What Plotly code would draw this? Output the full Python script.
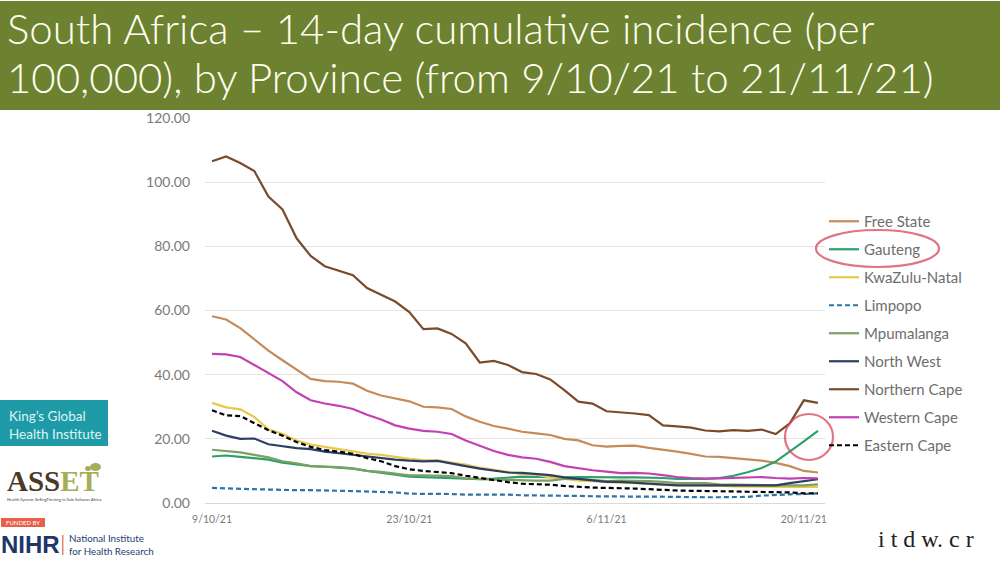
import plotly.graph_objects as go

dates = ["9/10/21","10/10/21","11/10/21","12/10/21","13/10/21","14/10/21","15/10/21","16/10/21","17/10/21","18/10/21",
         "19/10/21","20/10/21","21/10/21","22/10/21","23/10/21","24/10/21","25/10/21","26/10/21","27/10/21","28/10/21",
         "29/10/21","30/10/21","31/10/21","1/11/21","2/11/21","3/11/21","4/11/21","5/11/21","6/11/21","7/11/21",
         "8/11/21","9/11/21","10/11/21","11/11/21","12/11/21","13/11/21","14/11/21","15/11/21","16/11/21","17/11/21",
         "18/11/21","19/11/21","20/11/21","21/11/21"]
tick_dates = ["9/10/21","23/10/21","6/11/21","20/11/21"]
y_ticks = [0,20,40,60,80,100,120]

free_state = [58.2,57.2,54.5,51,47.5,44.5,41.5,38.7,38,37.8,
              37.2,35,33.5,32.5,31.7,30,29.8,29.3,27,25.3,
              24,23.2,22.2,21.7,21.2,20,19.5,18,17.6,17.8,
              17.9,17.2,16.7,16,15.3,14.5,14.4,14,13.8,13.2,
              12.5,11.5,10,9.5]
gauteng = [14.5,14.8,14.4,13.9,13.5,12.6,12,11.5,11.3,11,
           10.7,10,9.5,8.8,8.2,8,8,7.8,7.4,7.4,
           7.6,7.8,8.2,8.1,8,8,8.1,8,7.9,8,
           8,8,7.8,7.5,7.4,7.5,7.8,8.5,9.6,10.9,
           12.9,16,19.2,22.5]
kwazulu_natal = [31.2,29.8,29.2,26.8,23,21.5,19.5,18.2,17.5,16.8,
                 16,15.4,15,14.3,13.8,13.4,13.3,12.6,12,11,
                 10.3,9.5,9,8.8,8,7.5,7,6.8,6.5,6.3,
                 6.2,5.9,5.7,5.6,5.6,5.5,5.4,5.2,5.1,5,
                 5,5,5,5]
limpopo = [4.7,4.5,4.4,4.3,4.2,4,4,4,4,3.8,
           3.7,3.6,3.3,3.3,2.9,2.9,2.9,2.8,2.6,2.6,
           2.8,2.6,2.4,2.4,2.4,2.2,2.2,2.1,2,2,
           2,2,1.9,1.9,1.8,1.8,1.8,1.8,1.9,2.3,
           2.6,2.7,2.8,3]
mpumalanga = [16.6,16.2,15.8,15,14.2,13,12.4,11.5,11.4,11.2,
              10.8,10,9.7,9.2,8.6,8.6,8.5,8.4,7.7,7.4,
              7.3,7.2,7,7,7,7.5,7.5,7.2,6.8,7,
              7,6.8,6.6,6.2,6.2,6.2,5.8,5.7,5.5,5.5,
              5.5,5.5,5.5,5.8]
north_west = [22.5,21,20,20.1,18.3,17.6,17.1,16.8,16,15.5,
              15,14.3,14,13.5,13.2,13,13.1,12.4,11.5,10.7,
              10,9.5,9.4,9.1,8.7,8,7.5,7.1,6.6,6.6,
              6.3,6.1,5.7,5.5,5.5,5.5,5.3,5.4,5.4,5.4,
              5.5,6.2,6.7,7.4]
northern_cape = [106.5,108,106,103.5,95.5,91.5,82.5,77,73.8,72.5,
                 71,67,65,62.8,59.5,54.2,54.4,52.7,49.8,43.8,
                 44.3,43,40.8,40.2,38.5,35.2,31.6,31,28.6,28.3,
                 27.9,27.4,24.2,23.9,23.5,22.6,22.3,22.7,22.5,22.9,
                 21.5,24.8,32,31.2]
western_cape = [46.5,46.3,45.5,43,40.5,38,34.5,32,31,30.3,
                29.3,27.5,26,24.2,23.2,22.5,22.2,21.5,19.5,17.8,
                16.2,15,14.2,13.8,12.8,11.5,10.8,10.2,9.8,9.3,
                9.4,9.2,8.7,8.1,7.8,7.6,7.7,7.9,8,8.1,
                7.8,7.6,7.8,7.7]
eastern_cape = [28.9,27.3,27.1,25,22.7,21,19,17.5,16.5,16,
                15.3,14,13,11.5,10.5,10,9.7,9.3,8.5,7.8,
                7.2,6.5,6,5.9,5.7,5.3,5,4.8,4.7,4.7,
                4.5,4.3,4,3.9,3.8,3.8,3.8,3.6,3.5,3.5,
                3.5,3.3,3,3]

series = [
    ("Free State", free_state, "#C58B5A", "solid"),
    ("Gauteng", gauteng, "#2CA06C", "solid"),
    ("KwaZulu-Natal", kwazulu_natal, "#E8C94E", "solid"),
    ("Limpopo", limpopo, "#2F74A3", "dash"),
    ("Mpumalanga", mpumalanga, "#7E9F62", "solid"),
    ("North West", north_west, "#2C3F62", "solid"),
    ("Northern Cape", northern_cape, "#7A4B2A", "solid"),
    ("Western Cape", western_cape, "#C240B4", "solid"),
    ("Eastern Cape", eastern_cape, "#000000", "dash"),
]

W, H = 1000, 562
def px(x): return x / W
def py(y): return 1 - y / H

fig = go.Figure()
for name, vals, color, dash in series:
    fig.add_trace(go.Scatter(x=dates, y=vals, name=name, mode="lines", legendgroup=name,
                             line=dict(color=color, width=2.2, dash="5px,3px" if dash == "dash" else "solid")))

def rect(x0, y0, x1, y1, fill):
    return dict(type="rect", xref="paper", yref="paper", x0=px(x0), x1=px(x1), y0=py(y0), y1=py(y1),
                fillcolor=fill, line=dict(width=0), layer="below")
def ell(x0, y0, x1, y1):
    return dict(type="circle", xref="paper", yref="paper", x0=px(x0), x1=px(x1), y0=py(y0), y1=py(y1),
                line=dict(color="rgba(214,70,90,0.75)", width=2.2), layer="above")
def leaf(x0, y0, x1, y1, fill):
    return dict(type="circle", xref="paper", yref="paper", x0=px(x0), x1=px(x1), y0=py(y0), y1=py(y1),
                fillcolor=fill, line=dict(width=0), layer="above")

shapes = [
    rect(0, 1, 1000, 110, "#6D8230"),
    rect(0, 400, 108, 446, "#1E9BA6"),
    rect(1, 518, 45, 527, "#E8604C"),
    rect(62, 535, 63.5, 555, "#D98A70"),
    leaf(90, 463, 101, 471, "#A4AE55"),
    leaf(85, 466, 91, 471, "#A4AE55"),
    ell(816, 230, 939, 267),
    ell(785, 414, 833, 460),
]

def text(x, y, s, size, color, family="Lato", xanchor="left", yanchor="middle", weight=None):
    f = dict(size=size, color=color, family=family)
    if weight:
        f["weight"] = weight
    return dict(xref="paper", yref="paper", x=px(x), y=py(y), text=s, showarrow=False, xanchor=xanchor,
                yanchor=yanchor, align="left", font=f, borderpad=0)

annotations = [
    text(6, 28, "South Africa – 14-day cumulative incidence (per", 42, "#FFFFF0", weight=300),
    text(6, 77, "100,000), by Province (from 9/10/21 to 21/11/21)", 42, "#FFFFF0", weight=300),
    text(8, 416, "King’s Global", 13.5, "#DFF3F4"),
    text(8, 434, "Health Institute", 13.5, "#DFF3F4"),
    text(6, 481, "<b>ASS<span style='color:#A4AE55'>ET</span></b>", 29, "#4A3B2A", family="Liberation Serif"),
    text(6, 499, "Health System StrEngThening in Sub-Saharan Africa", 4.2, "#444444"),
    text(5, 522.5, "FUNDED BY", 6, "#FFFFFF"),
    text(0, 544, "<b>NIHR</b>", 24, "#1E3668", family="Liberation Sans"),
    text(68, 538, "National Institute", 9.8, "#24406E"),
    text(68, 551, "for Health Research", 9.8, "#24406E"),
    text(877, 539, "i t d w. c r", 24, "#222222", family="Liberation Serif"),
]

fig.update_layout(
    width=W, height=H, autosize=False,
    margin=dict(l=0, r=0, t=0, b=0, autoexpand=False, pad=0),
    paper_bgcolor="#FFFFFF", plot_bgcolor="#FFFFFF",
    shapes=shapes, annotations=annotations,
    xaxis=dict(domain=[px(205), px(825)], type="category", categoryorder="array", categoryarray=dates,
               range=[-0.5, 43.5], tickmode="array", tickvals=tick_dates, ticktext=tick_dates,
               tickfont=dict(size=10.5, color="#7A7A7A", family="Lato"), ticks="", showgrid=False,
               showline=True, linecolor="#D9D9D9", linewidth=1, zeroline=False, ticklabelstandoff=6),
    yaxis=dict(domain=[py(503), py(118)], range=[0, 120], tickmode="array", tickvals=y_ticks,
               tickformat=".2f", tickfont=dict(size=14, color="#7A7A7A", family="Lato"), ticks="",
               showgrid=True, gridcolor="#E4E4E4", gridwidth=1, zeroline=False, showline=False,
               ticklabelstandoff=14),
    legend=dict(x=px(824), y=py(205), xanchor="left", yanchor="top", tracegroupgap=5.5,
                font=dict(size=15, color="#6E6E6E", family="Lato"), bgcolor="rgba(0,0,0,0)",
                itemwidth=30, traceorder="grouped"),
    showlegend=True,
)
fig.write_html("out.html", post_script="document.body.style.margin='0';", config={"displayModeBar": False})
